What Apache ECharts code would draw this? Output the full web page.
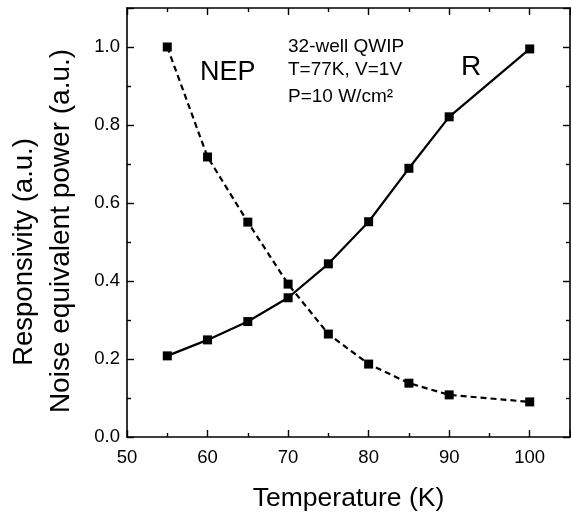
<!DOCTYPE html>
<html>
<head>
<meta charset="utf-8">
<script src="https://cdn.jsdelivr.net/npm/echarts@6/dist/echarts.min.js"></script>
<style>
html,body{margin:0;padding:0;background:#fff;}
#chart{width:571px;height:516px;}
</style>
</head>
<body>
<div id="chart"></div>
<script>
// Temperature (K)
const temperatures = [55, 60, 65, 70, 75, 80, 85, 90, 100];
// Responsivity R (a.u.)
const responsivity = [0.208, 0.249, 0.296, 0.357, 0.444, 0.552, 0.689, 0.821, 0.995];
// Noise equivalent power NEP (a.u.)
const nep = [1.0, 0.718, 0.551, 0.392, 0.264, 0.187, 0.138, 0.108, 0.090];
// Annotation texts
const infoLines = ['32-well QWIP', 'T=77K, V=1V', 'P=10 W/cm²'];
const yTitleLines = ['Responsivity (a.u.)', 'Noise equivalent power (a.u.)'];
const xTitle = 'Temperature (K)';

const FONT = '"Liberation Sans", Arial, Helvetica, sans-serif';

const chart = echarts.init(document.getElementById('chart'), null, {renderer: 'canvas'});

function pairs(xs, ys) { return xs.map((x, i) => [x, ys[i]]); }

function tickParts() {
  return {
    axisLine: {show: true, onZero: false, lineStyle: {color: '#000', width: 1.6}},
    axisTick: {show: true, inside: true, length: 7, lineStyle: {color: '#000', width: 1.4}},
    minorTick: {show: true, splitNumber: 2, length: 4, lineStyle: {color: '#000', width: 1.4}},
    splitLine: {show: false},
    minorSplitLine: {show: false}
  };
}

const option = {
  backgroundColor: '#fff',
  animation: false,
  grid: {left: 127, right: 1, top: 8, bottom: 79, containLabel: false, outerBoundsMode: 'none'},
  xAxis: [
    Object.assign({
      type: 'value', min: 50, max: 105, interval: 10, position: 'bottom',
      name: xTitle, nameLocation: 'middle', nameGap: 48,
      nameTextStyle: {fontFamily: FONT, fontSize: 26.5, color: '#000'},
      axisLabel: {show: true, margin: 11, fontFamily: FONT, fontSize: 18.5, color: '#000',
        showMaxLabel: false}
    }, tickParts()),
    Object.assign({
      type: 'value', min: 50, max: 105, interval: 10, position: 'top',
      axisLabel: {show: false}
    }, tickParts())
  ],
  yAxis: [
    Object.assign({
      type: 'value', min: 0, max: 1.1, interval: 0.2, position: 'left',
      axisLabel: {show: true, margin: 7, fontFamily: FONT, fontSize: 18.5, color: '#000',
        formatter: v => v.toFixed(1), showMaxLabel: false}
    }, tickParts()),
    Object.assign({
      type: 'value', min: 0, max: 1.1, interval: 0.2, position: 'right',
      axisLabel: {show: false}
    }, tickParts())
  ],
  series: [
    {
      name: 'R', type: 'line', xAxisIndex: 0, yAxisIndex: 0,
      data: pairs(temperatures, responsivity),
      symbol: 'rect', symbolSize: 9,
      itemStyle: {color: '#000'},
      lineStyle: {color: '#000', width: 2.2, type: 'solid'}
    },
    {
      name: 'NEP', type: 'line', xAxisIndex: 0, yAxisIndex: 0,
      data: pairs(temperatures, nep),
      symbol: 'rect', symbolSize: 9,
      itemStyle: {color: '#000'},
      lineStyle: {color: '#000', width: 2.2, type: [6, 4]}
    }
  ],
  graphic: [
    {type: 'text', x: 24, y: 252, rotation: Math.PI / 2,
      style: {text: yTitleLines[0], font: '27.5px ' + FONT, fill: '#000', align: 'center', verticalAlign: 'middle'}},
    {type: 'text', x: 61, y: 231, rotation: Math.PI / 2,
      style: {text: yTitleLines[1], font: '28px ' + FONT, fill: '#000', align: 'center', verticalAlign: 'middle'}},
    {type: 'text', x: 288, y: 46.5,
      style: {text: infoLines[0], font: '19px ' + FONT, fill: '#000', align: 'left', verticalAlign: 'middle'}},
    {type: 'text', x: 288, y: 70,
      style: {text: infoLines[1], font: '19px ' + FONT, fill: '#000', align: 'left', verticalAlign: 'middle'}},
    {type: 'text', x: 288, y: 96.5,
      style: {text: infoLines[2], font: '19px ' + FONT, fill: '#000', align: 'left', verticalAlign: 'middle'}},
    {type: 'text', x: 200, y: 73,
      style: {text: 'NEP', font: '27px ' + FONT, fill: '#000', align: 'left', verticalAlign: 'middle'}},
    {type: 'text', x: 461, y: 67.5,
      style: {text: 'R', font: '28px ' + FONT, fill: '#000', align: 'left', verticalAlign: 'middle'}}
  ]
};

chart.setOption(option);
</script>
</body>
</html>
